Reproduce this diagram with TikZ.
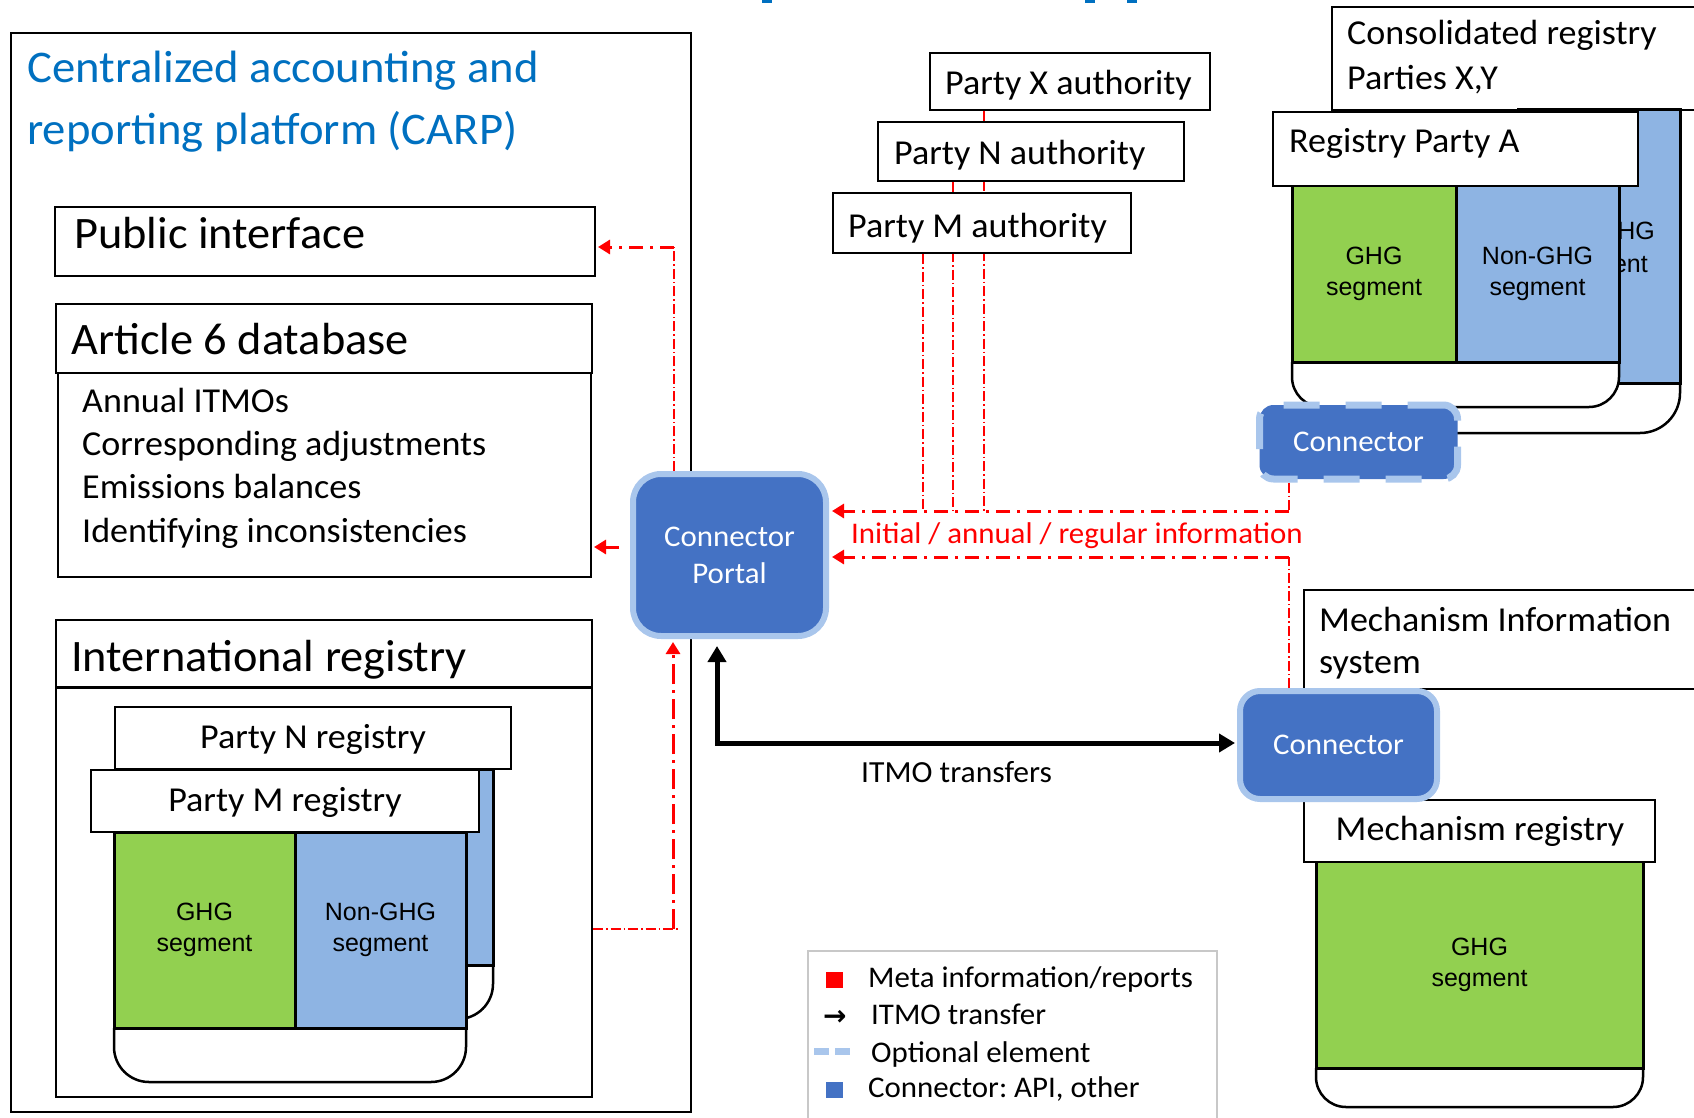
\documentclass[tikz,border=0pt]{standalone}
\usepackage{fontspec}
\setmainfont{Carlito}[FakeStretch=1.03]
\newfontfamily\arialf{Liberation Sans}
\newfontfamily\djv{DejaVu Sans}
\usetikzlibrary{arrows.meta}
\definecolor{carpblue}{RGB}{0,112,192}
\definecolor{seggreen}{RGB}{146,208,80}
\definecolor{segblue}{RGB}{142,180,227}
\definecolor{conndark}{RGB}{68,114,196}
\definecolor{connlight}{RGB}{169,198,236}
\definecolor{metared}{RGB}{255,0,0}
\definecolor{legendgray}{RGB}{200,200,200}
\newcommand\fsXL{\fontsize{45.3}{62}\selectfont}
\newcommand\fsL{\fontsize{45}{54}\selectfont}
\newcommand\fsM{\fontsize{35}{42}\selectfont}
\newcommand\fsS{\fontsize{30}{37}\selectfont}
\newcommand\fsSeg{\fontsize{25}{31}\selectfont}
\frenchspacing
\tikzset{
  box/.style={draw=black, line width=2pt, fill=white, inner sep=0pt},
  segG/.style={draw=black, line width=3pt, fill=seggreen, inner sep=0pt, align=center, font=\arialf\fsSeg},
  segB/.style={draw=black, line width=3pt, fill=segblue, inner sep=0pt, align=center, font=\arialf\fsSeg},
  regbottom/.style={draw=black, line width=2.5pt, fill=white},
  lbl/.style={inner sep=0pt, anchor=base west},
  lblc/.style={inner sep=0pt, anchor=base},
  lble/.style={inner sep=0pt, anchor=base east},
  conn/.style={draw=connlight, line width=6pt, fill=conndark, rounded corners=24pt, text=white, font=\fsS, align=center, inner sep=0pt},
  connopt/.style={conn, dash pattern=on 36pt off 26pt, line width=7pt, rounded corners=14pt},
  metathin/.style={draw=metared, line width=1.3pt, dash pattern=on 10pt off 3pt on 1.5pt off 3pt},
  metathick/.style={draw=metared, line width=3pt, dash pattern=on 14pt off 7pt on 3pt off 7pt},
  metavert/.style={draw=metared, line width=3pt, dash pattern=on 20pt off 6pt on 3pt off 6pt},
  metatip/.style={-{Triangle[length=12pt,width=14pt]}},
  itmo/.style={draw=black, line width=5pt, line join=miter, {Triangle[length=16pt,width=18pt]}-{Triangle[length=16pt,width=18pt]}},
}
\begin{document}
\begin{tikzpicture}[x=1pt,y=-1pt]
\useasboundingbox (0,0) rectangle (1694,1118);
\clip (0,0) rectangle (1694,1118);

% cropped title fragments
\fill[carpblue] (762,0) rectangle (772,3.5);
\fill[carpblue] (1085,0) rectangle (1095,3.5);
\fill[carpblue] (1127,0) rectangle (1137,3.5);

% CARP
\node[draw=black, line width=2pt, inner sep=0pt, minimum width=680pt, minimum height=1079pt] (carp) at (351,572.5) {};
\node[lbl, text=carpblue, font=\fsXL] (carpT1) at (27,83) {Centralized accounting and};
\node[lbl, text=carpblue, font=\fsXL] (carpT2) at (27,145) {reporting platform (CARP)};

% Public interface
\node[box, minimum width=540.5pt, minimum height=69pt] (pubbox) at (324.75,241.5) {};
\node[lbl, font=\fsL] (pubT) at (74,248) {Public interface};

% Article 6 database
\node[box, minimum width=533pt, minimum height=204pt] (artbody) at (324.5,475) {};
\node[box, minimum width=536pt, minimum height=69pt] (arthead) at (324,338.5) {};
\node[lbl, font=\fsL] (artT) at (71,354) {Article 6 database};
\node[lbl, font=\fsM] (art1) at (82,412) {Annual ITMOs};
\node[lbl, font=\fsM] (art2) at (82,455) {Corresponding adjustments};
\node[lbl, font=\fsM] (art3) at (82,498) {Emissions balances};
\node[lbl, font=\fsM] (art4) at (82,542) {Identifying inconsistencies};

% International registry
\node[box, minimum width=536pt, minimum height=477pt] (intreg) at (324,858.5) {};
\draw[line width=3pt] (intreg.west |- 0,687) -- (intreg.east |- 0,687);
\node[lbl, font=\fsL] (intT) at (71,671) {International registry};

% Party N registry (back)
\draw[regbottom, rounded corners=35pt] (141,965) -- (141,1019) -- (493,1019) -- (493,965);
\node[segG, minimum width=181pt, minimum height=196pt] (nGHG) at (231.5,867) {};
\node[segB, minimum width=171pt, minimum height=196pt] (nNon) at (407.5,867) {};
\node[box, minimum width=396pt, minimum height=62pt] (nHead) at (313,738) {};
\node[lblc, font=\fsM] (nT) at (313,748) {Party N registry};

% Party M registry (front)
\draw[regbottom, rounded corners=35pt] (114,1028) -- (114,1082) -- (466,1082) -- (466,1028);
\node[segG, minimum width=181pt, minimum height=196pt] (mGHG) at (204.5,930) {GHG\\segment};
\node[segB, minimum width=171pt, minimum height=196pt] (mNon) at (380.5,930) {Non-GHG\\segment};
\node[box, minimum width=388pt, minimum height=62pt] (mHead) at (285,801) {};
\node[lblc, font=\fsM] (mT) at (285,811) {Party M registry};

% Authorities
\coordinate (vX) at (984,511);
\coordinate (vN) at (953,511);
\coordinate (vM) at (923,511);
\node[box, minimum width=280pt, minimum height=57pt] (authX) at (1070,81.5) {};
\node[lbl, font=\fsM] (authXT) at (945,95) {Party X authority};
\draw[metathin] (authX.south -| vX) -- (vX);
\node[box, minimum width=306pt, minimum height=59pt] (authN) at (1031,151.5) {};
\node[lbl, font=\fsM] (authNT) at (894,165) {Party N authority};
\draw[metathin] (authN.south -| vN) -- (vN);
\node[box, minimum width=298pt, minimum height=60pt] (authM) at (982,223) {};
\node[lbl, font=\fsM] (authMT) at (848,237) {Party M authority};
\draw[metathin] (authM.south -| vM) -- (vM);

% Consolidated registry (back)
\node[box, minimum width=388pt, minimum height=103pt] (consol) at (1526,58.5) {};
\node[lbl, font=\fsM] (consT1) at (1347,45) {Consolidated registry};
\node[lbl, font=\fsM] (consT2) at (1347,90) {Parties X,Y};
\draw[regbottom, rounded corners=40pt] (1354,383) -- (1354,433) -- (1680,433) -- (1680,383);
\node[segB, minimum width=162pt, minimum height=273pt] (cNon) at (1599,246.5) {};
\node[lble, font=\arialf\fsSeg] (cNonT1) at (1655,240) {HG};
\node[lble, font=\arialf\fsSeg] (cNonT2) at (1648,272) {ent};

% Registry Party A
\draw[regbottom, rounded corners=30pt] (1292,362) -- (1292,407) -- (1619,407) -- (1619,362);
\node[segG, minimum width=164pt, minimum height=176pt] (aGHG) at (1374,274) {GHG\\segment};
\node[segB, minimum width=163pt, minimum height=176pt] (aNon) at (1537.5,274) {Non-GHG\\segment};
\node[box, minimum width=365pt, minimum height=74pt] (aHead) at (1455.5,149) {};
\node[lbl, font=\fsM] (aT) at (1289,153) {Registry Party A};

% Mechanism
\node[box, minimum width=416pt, minimum height=99pt] (mechinfo) at (1512,639.5) {};
\node[lbl, font=\fsM] (miT1) at (1319,631) {Mechanism Information};
\node[lbl, font=\fsM] (miT2) at (1319,673) {system};
\draw[regbottom, rounded corners=30pt] (1316,1068) -- (1316,1107) -- (1643,1107) -- (1643,1068);
\node[segG, minimum width=327pt, minimum height=207pt] (mechGHG) at (1479.5,964.5) {GHG\\segment};
\node[box, minimum width=351pt, minimum height=62pt] (mechreg) at (1479.5,831) {};
\node[lblc, font=\fsM] (mrT) at (1480,840) {Mechanism registry};

% Legend
\node[draw=legendgray, line width=2pt, inner sep=0pt, minimum width=409pt, minimum height=179pt] (legend) at (1012.5,1040.5) {};
\fill[metared] (826,972) rectangle (843,988);
\node[lbl, font=\fsS] (lg1) at (868,987) {Meta information/reports};
\node[lbl, font=\djv\bfseries\fontsize{28}{30}\selectfont] (lgarr) at (823,1025) {→};
\node[lbl, font=\fsS] (lg2) at (871,1024) {ITMO transfer};
\draw[connlight, line width=7pt, dash pattern=on 15pt off 6pt] (814,1051) -- (852,1051);
\node[lbl, font=\fsS] (lg3) at (871,1062) {Optional element};
\fill[conndark] (826,1082) rectangle (843,1098);
\node[lbl, font=\fsS] (lg4) at (868,1097) {Connector: API, other};

% Connectors
\node[conn, minimum width=193pt, minimum height=162pt, rounded corners=28pt] (portal) at (729.5,555) {Connector\\Portal};
\node[connopt, minimum width=198pt, minimum height=74pt] (topconn) at (1358.5,442) {Connector};
\node[conn, minimum width=197pt, minimum height=108pt, rounded corners=20pt] (mechconn) at (1338.5,745) {Connector};

% Meta information arrows
\coordinate (jA) at (1289,511);
\coordinate (jB) at (1289,557);
\draw[metathin] (topconn.south -| jA) -- (jA);
\draw[metathick, metatip] (jA) -- ([xshift=3pt]jA -| portal.east);
\draw[metathin] (mechconn.north -| jB) -- (jB);
\draw[metathick, metatip] (jB) -- ([xshift=3pt]jB -| portal.east);
\node[lbl, text=metared, font=\fsS] (infoT) at (851,543) {Initial / annual / regular information};

\coordinate (jP) at (674,247);
\draw[metathin] (portal.north -| jP) -- (jP);
\draw[metathick, metatip] (jP) -- ([xshift=2pt]jP -| pubbox.east);

\coordinate (jArt) at (619,547);
\draw[metared, line width=3pt, metatip] (jArt) -- ([xshift=2pt]jArt -| artbody.east);

\coordinate (jI) at (673,929);
\draw[metathin] (intreg.east |- jI) -- ([xshift=7pt]jI);
\draw[metavert, metatip] (jI) -- ([yshift=-3pt]jI |- portal.south);

% ITMO transfers
\coordinate (jT) at (717,743);
\draw[itmo] ([yshift=-7pt]jT |- portal.south) -- (jT) -- ([xshift=-2pt]jT -| mechconn.west);
\node[lbl, font=\fontsize{30.7}{37}\selectfont] (itmoT) at (861,782) {ITMO transfers};
\end{tikzpicture}
\end{document}
